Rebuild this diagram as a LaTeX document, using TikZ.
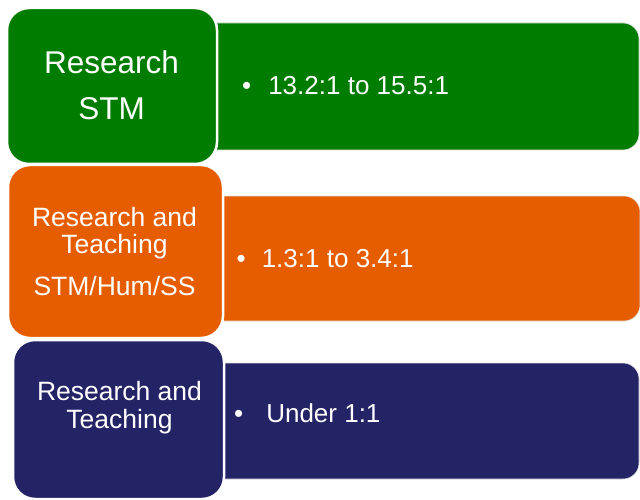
\documentclass[tikz,border=0pt]{standalone}
\usepackage{fontspec}
\setmainfont{Liberation Sans}
\usepackage{tikz}
\definecolor{stmgreen}{RGB}{0,125,0}
\definecolor{teachorange}{RGB}{230,93,0}
\definecolor{teachnavy}{RGB}{35,35,102}
\tikzset{
  groupbox/.style={rectangle, rounded corners=22pt, draw=white, line width=2.5pt, inner sep=0pt},
  ratiobox/.style={rectangle, rounded corners=16pt, draw=gray!25, line width=0.6pt, inner sep=0pt},
  grouptext/.style={text=white, align=center, anchor=north, inner sep=0pt},
  ratiotext/.style={text=white, anchor=base west, inner sep=0pt, font=\fontsize{26}{30}\selectfont}
}

\begin{document}
\begin{tikzpicture}[x=1pt, y=1pt]
\useasboundingbox (0,0) rectangle (640,499);

% bars behind the boxes
\node[ratiobox, fill=stmgreen, minimum width=443pt, minimum height=127pt] (stmbar) at (417.5,412.5) {};
\node[ratiobox, fill=teachorange, minimum width=440pt, minimum height=125pt] (mixbar) at (420,240.5) {};
\node[ratiobox, fill=teachnavy, minimum width=434pt, minimum height=116pt] (teachbar) at (422,78) {};

\node[groupbox, fill=stmgreen, minimum width=210pt, minimum height=156pt] (stm) at (112,413) {};
\node[groupbox, fill=teachorange, minimum width=215pt, minimum height=173pt] (mix) at (115.5,247.5) {};
\node[groupbox, fill=teachnavy, minimum width=211pt, minimum height=159pt] (teach) at (118.5,79.5) {};

\node[grouptext, font=\fontsize{31.5}{46}\selectfont] (stmlabel) at (111.5,449) {Research\\STM};
\node[grouptext, font=\fontsize{26.5}{27}\selectfont] (mixlabel) at (114.5,292) {Research and\\Teaching\\[15pt]STM/Hum/SS};
\node[grouptext, font=\fontsize{26.5}{28}\selectfont] (teachlabel) at (119.5,118) {Research and\\Teaching};

\node[ratiotext] (stmratio) at (242,404) {\textbullet\hspace{17pt}13.2:1 to 15.5:1};
\node[ratiotext] (mixratio) at (236.5,232) {\textbullet\hspace{16pt}1.3:1 to 3.4:1};
\node[ratiotext] (teachratio) at (234,77) {\textbullet\hspace{23pt}Under 1:1};

\end{tikzpicture}
\end{document}
